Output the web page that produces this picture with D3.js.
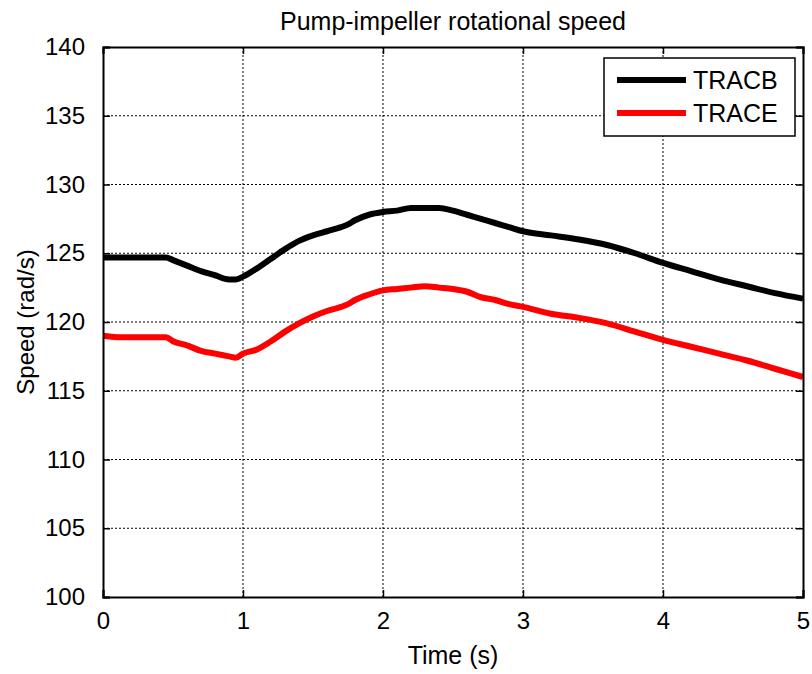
<!DOCTYPE html>
<html>
<head>
  <meta charset="utf-8" />
  <script src="https://d3js.org/d3.v7.min.js"></script>
  <style>
    body { margin: 0; background: #fff; }
    text { font-family: "Liberation Sans", Arial, sans-serif; }
  </style>
</head>
<body>
  <script>
    var width = 812,
      height = 674;

    // data
    var time = [0, 0.1, 0.2, 0.3, 0.4, 0.45, 0.5, 0.6, 0.7, 0.8, 0.9, 0.95, 1.0, 1.1, 1.2, 1.3, 1.4, 1.5, 1.6, 1.7, 1.75, 1.8, 1.9, 2.0, 2.1, 2.2, 2.3, 2.4, 2.5, 2.6, 2.7, 2.8, 2.9, 3.0, 3.2, 3.4, 3.6, 3.8, 4.0, 4.2, 4.4, 4.6, 4.8, 5.0];
    var tracb = [124.7, 124.7, 124.7, 124.7, 124.7, 124.7, 124.5, 124.1, 123.7, 123.4, 123.1, 123.1, 123.3, 123.9, 124.6, 125.3, 125.9, 126.3, 126.6, 126.9, 127.1, 127.4, 127.8, 128.0, 128.1, 128.3, 128.3, 128.3, 128.1, 127.8, 127.5, 127.2, 126.9, 126.6, 126.3, 126.0, 125.6, 125.0, 124.3, 123.7, 123.1, 122.6, 122.1, 121.7];
    var trace = [119.0, 118.9, 118.9, 118.9, 118.9, 118.9, 118.6, 118.3, 117.9, 117.7, 117.5, 117.4, 117.7, 118.0, 118.6, 119.3, 119.9, 120.4, 120.8, 121.1, 121.3, 121.6, 122.0, 122.3, 122.4, 122.5, 122.6, 122.5, 122.4, 122.2, 121.8, 121.6, 121.3, 121.1, 120.6, 120.3, 119.9, 119.3, 118.7, 118.2, 117.7, 117.2, 116.6, 116.0];
    var xTicks = [0, 1, 2, 3, 4, 5];
    var yTicks = [100, 105, 110, 115, 120, 125, 130, 135, 140];
    var seriesNames = ["TRACB", "TRACE"];
    var seriesColors = ["#000000", "#ff0000"];

    var margin = { top: 47, right: 9, bottom: 77, left: 103 };
    var w = width - margin.left - margin.right,
      h = height - margin.top - margin.bottom;

    var svg = d3.select("body").append("svg")
      .attr("width", width)
      .attr("height", height);

    var g = svg.append("g")
      .attr("transform", "translate(" + margin.left + "," + margin.top + ")");

    var x = d3.scaleLinear().domain([0, 5]).range([0, w]);
    var y = d3.scaleLinear().domain([100, 140]).range([h, 0]);

    // grid
    g.append("g").selectAll("line")
      .data(xTicks.slice(1, -1))
      .enter().append("line")
      .attr("x1", d => x(d)).attr("x2", d => x(d))
      .attr("y1", 0).attr("y2", h)
      .attr("stroke", "#000").attr("stroke-width", 1)
      .attr("stroke-dasharray", "2,2");
    g.append("g").selectAll("line")
      .data(yTicks.slice(1, -1))
      .enter().append("line")
      .attr("x1", 0).attr("x2", w)
      .attr("y1", d => y(d)).attr("y2", d => y(d))
      .attr("stroke", "#000").attr("stroke-width", 1)
      .attr("stroke-dasharray", "2,2");

    // lines
    var series = [tracb, trace];
    var line = d3.line()
      .x((d, i) => x(time[i]))
      .y(d => y(d))
      .curve(d3.curveMonotoneX);

    series.forEach(function (s, k) {
      g.append("path")
        .datum(s)
        .attr("d", line)
        .attr("fill", "none")
        .attr("stroke", seriesColors[k])
        .attr("stroke-width", 6)
        .attr("stroke-linejoin", "round");
    });

    // axes, ticks pointing inward (matlab style)
    var fs = "24px";
    var axB = g.append("g").attr("transform", "translate(0," + h + ")")
      .call(d3.axisBottom(x).tickValues(xTicks).tickSize(-7).tickPadding(15).tickFormat(d3.format("d")));
    var axT = g.append("g")
      .call(d3.axisTop(x).tickValues(xTicks).tickSize(-7).tickFormat(""));
    var axL = g.append("g")
      .call(d3.axisLeft(y).tickValues(yTicks).tickSize(-7).tickPadding(18).tickFormat(d3.format("d")));
    var axR = g.append("g").attr("transform", "translate(" + w + ",0)")
      .call(d3.axisRight(y).tickValues(yTicks).tickSize(-7).tickFormat(""));

    [axB, axT, axL, axR].forEach(function (a) {
      a.select(".domain").attr("stroke", "#000").attr("stroke-width", 2);
      a.selectAll(".tick line").attr("stroke", "#000").attr("stroke-width", 1.5);
      a.selectAll("text").attr("font-size", fs).attr("fill", "#000")
        .attr("font-family", "Liberation Sans, Arial, sans-serif");
    });

    // titles
    svg.append("text")
      .attr("x", margin.left + w / 2).attr("y", 30)
      .attr("text-anchor", "middle").attr("font-size", "25px")
      .text("Pump-impeller rotational speed");
    svg.append("text")
      .attr("x", margin.left + w / 2).attr("y", 664)
      .attr("text-anchor", "middle").attr("font-size", "25px")
      .text("Time (s)");
    svg.append("text")
      .attr("transform", "translate(34," + (margin.top + h / 2) + ") rotate(-90)")
      .attr("text-anchor", "middle").attr("font-size", "24px")
      .text("Speed (rad/s)");

    // legend
    var lg = svg.append("g").attr("transform", "translate(604,58)");
    lg.append("rect")
      .attr("width", 191).attr("height", 78)
      .attr("fill", "#fff").attr("stroke", "#000").attr("stroke-width", 1.5);
    seriesNames.forEach(function (name, i) {
      var yy = 22 + i * 33;
      lg.append("line")
        .attr("x1", 13).attr("x2", 82)
        .attr("y1", yy).attr("y2", yy)
        .attr("stroke", seriesColors[i]).attr("stroke-width", 6);
      lg.append("text")
        .attr("x", 89).attr("y", yy + 9)
        .attr("font-size", "25px")
        .text(name);
    });
  </script>
</body>
</html>
